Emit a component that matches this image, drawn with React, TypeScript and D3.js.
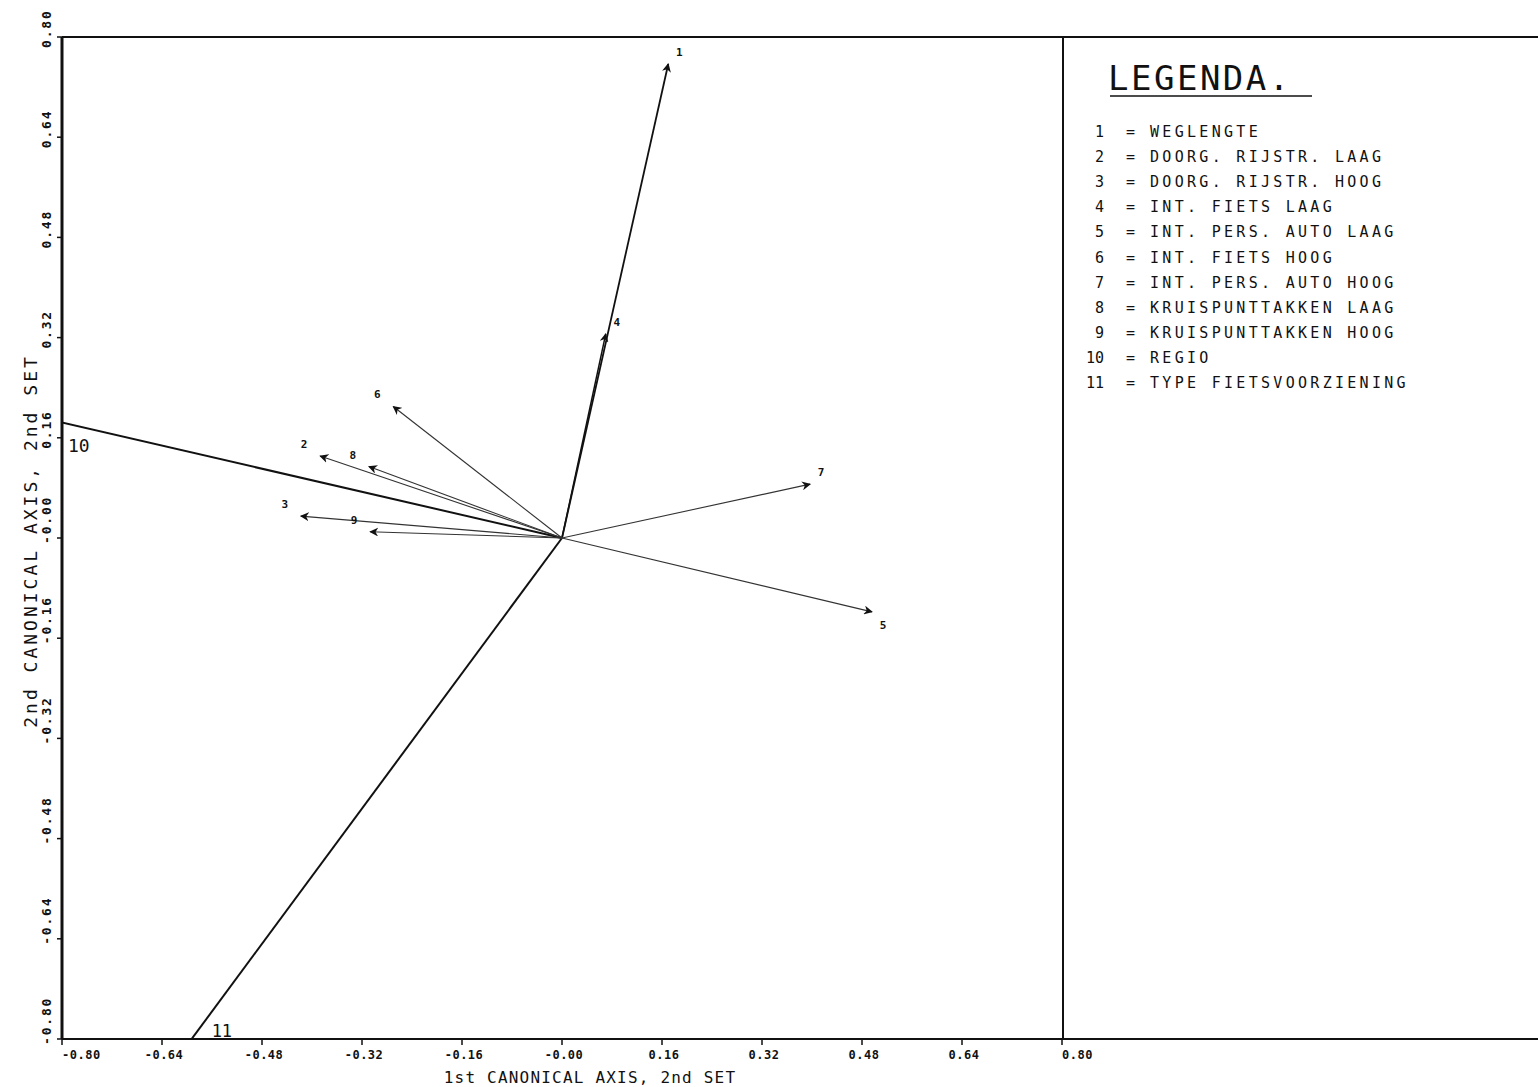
import React, { useEffect, useRef } from 'react';
import * as d3 from 'd3';

// canonical loadings (1st axis, 2nd axis)
const vectorIds = ['1', '2', '3', '4', '5', '6', '7', '8', '9', '10', '11'];
const axis1 = [0.17, -0.387, -0.418, 0.07, 0.496, -0.27, 0.397, -0.309, -0.307, -0.82, -0.6];
const axis2 = [0.757, 0.131, 0.035, 0.326, -0.118, 0.21, 0.086, 0.114, 0.01, 0.189, -0.81];

const tickValues = [-0.8, -0.64, -0.48, -0.32, -0.16, 0, 0.16, 0.32, 0.48, 0.64, 0.8];
const tickLabels = ['-0.80', '-0.64', '-0.48', '-0.32', '-0.16', '-0.00', '0.16', '0.32', '0.48', '0.64', '0.80'];

const legendNumbers = ['1', '2', '3', '4', '5', '6', '7', '8', '9', '10', '11'];
const legendNames = [
  'WEGLENGTE',
  'DOORG. RIJSTR. LAAG',
  'DOORG. RIJSTR. HOOG',
  'INT. FIETS LAAG',
  'INT. PERS. AUTO LAAG',
  'INT. FIETS HOOG',
  'INT. PERS. AUTO HOOG',
  'KRUISPUNTTAKKEN LAAG',
  'KRUISPUNTTAKKEN HOOG',
  'REGIO',
  'TYPE FIETSVOORZIENING',
];

export default function App() {
  const svgRef = useRef<SVGSVGElement>(null);

  const width = 1538;
  const height = 1087;
  const plot = { left: 62, right: 1062, top: 37, bottom: 1039 };
  const mono = "'DejaVu Sans Mono', monospace";

  useEffect(() => {
    const svg = d3.select(svgRef.current);
    svg.selectAll('*').remove();
    svg.attr('width', width).attr('height', height);

    const x = d3.scaleLinear().domain([-0.8, 0.8]).range([plot.left, plot.right]);
    const y = d3.scaleLinear().domain([-0.8, 0.8]).range([plot.bottom, plot.top]);

    const defs = svg.append('defs');
    defs
      .append('clipPath')
      .attr('id', 'plotclip')
      .append('rect')
      .attr('x', plot.left)
      .attr('y', plot.top)
      .attr('width', plot.right - plot.left)
      .attr('height', plot.bottom - plot.top);
    defs
      .append('marker')
      .attr('id', 'arrow')
      .attr('viewBox', '0 0 10 10')
      .attr('refX', 9)
      .attr('refY', 5)
      .attr('markerWidth', 9)
      .attr('markerHeight', 9)
      .attr('markerUnits', 'userSpaceOnUse')
      .attr('orient', 'auto')
      .append('path')
      .attr('d', 'M0,0 L10,5 L0,10 L3,5 Z')
      .attr('fill', '#111');

    // frame
    const frame = svg.append('g').attr('stroke', '#111').attr('fill', 'none');
    frame.append('line').attr('x1', plot.left).attr('x2', width).attr('y1', plot.top).attr('y2', plot.top).attr('stroke-width', 2);
    frame.append('line').attr('x1', plot.left).attr('x2', width).attr('y1', plot.bottom).attr('y2', plot.bottom).attr('stroke-width', 2);
    frame.append('line').attr('x1', plot.left).attr('x2', plot.left).attr('y1', plot.top).attr('y2', plot.bottom).attr('stroke-width', 3);
    frame.append('line').attr('x1', plot.right + 1).attr('x2', plot.right + 1).attr('y1', plot.top).attr('y2', plot.bottom).attr('stroke-width', 2);

    // x ticks
    const xt = svg.append('g');
    xt.selectAll('line')
      .data(tickValues)
      .enter()
      .append('line')
      .attr('x1', (d) => x(d))
      .attr('x2', (d) => x(d))
      .attr('y1', plot.bottom)
      .attr('y2', plot.bottom + 6)
      .attr('stroke', '#111')
      .attr('stroke-width', 1.5);
    xt.selectAll('text')
      .data(tickValues)
      .enter()
      .append('text')
      .text((d, i) => tickLabels[i])
      .attr('x', (d, i) => (i === 0 || i === tickValues.length - 1 ? x(d) : x(d) + 2))
      .attr('y', plot.bottom + 20)
      .attr('text-anchor', (d, i) => (i === 0 || i === tickValues.length - 1 ? 'start' : 'middle'))
      .attr('font-family', mono)
      .attr('font-weight', 'bold')
      .attr('font-size', 12)
      .attr('letter-spacing', 0.5)
      .attr('fill', '#111');

    // y ticks
    const yt = svg.append('g');
    yt.selectAll('line')
      .data(tickValues)
      .enter()
      .append('line')
      .attr('x1', plot.left - 5)
      .attr('x2', plot.left)
      .attr('y1', (d) => y(d))
      .attr('y2', (d) => y(d))
      .attr('stroke', '#111')
      .attr('stroke-width', 1.5);
    yt.selectAll('text')
      .data(tickValues)
      .enter()
      .append('text')
      .text((d, i) => tickLabels[i])
      .attr('transform', (d) => `translate(51,${y(d) + (d <= 0 ? 6 : 11)}) rotate(-90)`)
      .attr('text-anchor', 'start')
      .attr('font-family', mono)
      .attr('font-weight', 'bold')
      .attr('font-size', 13)
      .attr('letter-spacing', 1.8)
      .attr('fill', '#111');

    // axis titles
    svg
      .append('text')
      .attr('x', 590)
      .attr('y', 1083)
      .attr('text-anchor', 'middle')
      .attr('font-family', mono)
      .attr('font-size', 16)
      .attr('letter-spacing', 1.2)
      .attr('fill', '#111')
      .text('1st CANONICAL AXIS, 2nd SET');
    svg
      .append('text')
      .attr('transform', 'translate(37,541) rotate(-90)')
      .attr('text-anchor', 'middle')
      .attr('font-family', mono)
      .attr('font-size', 18)
      .attr('letter-spacing', 3)
      .attr('fill', '#111')
      .text('2nd CANONICAL AXIS, 2nd SET');

    // vectors
    const vectors = vectorIds.map((id, i) => ({ id, vx: axis1[i], vy: axis2[i] }));
    const arrows = vectors.filter((d) => +d.id <= 9);
    const long = vectors.filter((d) => +d.id > 9);

    const g = svg.append('g').attr('clip-path', 'url(#plotclip)');
    g.selectAll('line.long')
      .data(long)
      .enter()
      .append('line')
      .attr('class', 'long')
      .attr('x1', x(0))
      .attr('y1', y(0))
      .attr('x2', (d) => x(d.vx))
      .attr('y2', (d) => y(d.vy))
      .attr('stroke', '#111')
      .attr('stroke-width', 2);

    g.selectAll('line.arrow')
      .data(arrows)
      .enter()
      .append('line')
      .attr('class', 'arrow')
      .attr('x1', x(0))
      .attr('y1', y(0))
      .attr('x2', (d) => x(d.vx))
      .attr('y2', (d) => y(d.vy))
      .attr('stroke', (d) => (d.id === '1' || d.id === '4' ? '#111' : '#333'))
      .attr('stroke-width', (d) => (d.id === '1' ? 1.8 : d.id === '4' ? 1.5 : 1.1))
      .attr('marker-end', 'url(#arrow)');

    svg
      .append('g')
      .selectAll('text')
      .data(arrows)
      .enter()
      .append('text')
      .text((d) => d.id)
      .attr('x', (d) => x(d.vx) + (d.vx >= 0 ? 11 : -16))
      .attr('y', (d) => y(d.vy) + (d.vy >= 0 ? -8 : 17))
      .attr('text-anchor', 'middle')
      .attr('font-family', mono)
      .attr('font-weight', 'bold')
      .attr('font-size', 11)
      .attr('fill', '#111');

    // labels of the clipped vectors 10 and 11
    svg
      .append('text')
      .attr('x', plot.left + 6)
      .attr('y', y(long[0].vy) + 32)
      .attr('font-family', mono)
      .attr('font-size', 18)
      .attr('fill', '#111')
      .text(long[0].id);
    svg
      .append('text')
      .attr('x', x(-0.8 * (long[1].vx / long[1].vy)) + 20)
      .attr('y', plot.bottom - 2)
      .attr('font-family', mono)
      .attr('font-size', 17)
      .attr('fill', '#111')
      .text(long[1].id);

    // legend
    const legend = svg.append('g');
    legend
      .append('text')
      .attr('x', 1108)
      .attr('y', 90)
      .attr('font-family', mono)
      .attr('font-size', 34)
      .attr('letter-spacing', 2.5)
      .attr('fill', '#111')
      .text('LEGENDA.');
    legend
      .append('line')
      .attr('x1', 1110)
      .attr('x2', 1312)
      .attr('y1', 96)
      .attr('y2', 96)
      .attr('stroke', '#111')
      .attr('stroke-width', 1.5);

    const rows = legend
      .selectAll('g.row')
      .data(legendNames)
      .enter()
      .append('g')
      .attr('class', 'row')
      .attr('transform', (d, i) => `translate(0,${137 + i * 25.1})`)
      .attr('font-family', mono)
      .attr('font-size', 15)
      .attr('fill', '#111');
    rows
      .append('text')
      .attr('x', 1104)
      .attr('text-anchor', 'end')
      .text((d, i) => legendNumbers[i]);
    rows.append('text').attr('x', 1126).text('=');
    rows
      .append('text')
      .attr('x', 1150)
      .attr('letter-spacing', 3.3)
      .text((d) => d);
  }, []);

  return (
    <svg
      ref={svgRef}
      style={{ position: 'absolute', left: 0, top: 0, background: '#fff', display: 'block' }}
    ></svg>
  );
}
